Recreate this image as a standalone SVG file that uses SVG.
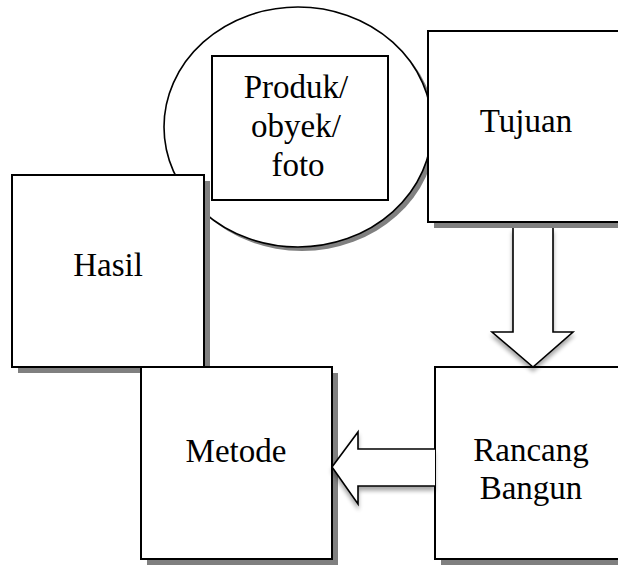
<svg xmlns="http://www.w3.org/2000/svg" width="618" height="565" viewBox="0 0 618 565">
<style>
.box{fill:#fff;stroke:#000;stroke-width:2}
.shadow{fill:#808080}
.txt{font-family:"Liberation Serif","Times New Roman",serif;font-size:33px;fill:#000;text-anchor:middle}
.arrow{fill:#fff;stroke:#000;stroke-width:1.6;stroke-linejoin:miter}
</style>
<defs>
<filter id="soft" x="-20%" y="-20%" width="140%" height="160%">
<feGaussianBlur in="SourceAlpha" stdDeviation="2"/>
<feOffset dx="0" dy="4" result="b"/>
<feComponentTransfer><feFuncA type="linear" slope="0.35"/></feComponentTransfer>
<feMerge><feMergeNode/><feMergeNode in="SourceGraphic"/></feMerge>
</filter>
</defs>
<rect width="618" height="565" fill="#fff"/>

<g id="produk">
<ellipse cx="302" cy="131" rx="134" ry="120" class="shadow"/>
<ellipse cx="298" cy="127" rx="134" ry="120" fill="#fff" stroke="#000" stroke-width="1.6"/>
<rect x="212" y="56" width="176" height="144" class="box"/>
<text class="txt" x="296" y="98">Produk/</text>
<text class="txt" x="296" y="137">obyek/</text>
<text class="txt" x="298" y="176">foto</text>
</g>

<g id="hasil">
<rect x="18" y="181" width="192" height="192" class="shadow"/>
<rect x="12" y="175" width="192" height="192" class="box"/>
<text class="txt" x="108" y="276">Hasil</text>
</g>

<g id="tujuan">
<rect x="434" y="37" width="192" height="191" class="shadow"/>
<rect x="428" y="31" width="192" height="191" class="box"/>
<text class="txt" x="526" y="132">Tujuan</text>
</g>

<g id="metode">
<rect x="147" y="373" width="191" height="192" class="shadow"/>
<rect x="141" y="367" width="191" height="192" class="box"/>
<text class="txt" x="236" y="462">Metode</text>
</g>

<g id="rancang">
<rect x="441" y="373" width="192" height="192" class="shadow"/>
<rect x="435" y="367" width="192" height="192" class="box"/>
<text class="txt" x="531" y="461">Rancang</text>
<text class="txt" x="531" y="499">Bangun</text>
</g>

<g id="connectors">
<path class="arrow" filter="url(#soft)" d="M513,228 L513,332 L492,332 L533,367 L573,332 L553,332 L553,228"/>
<path class="arrow" filter="url(#soft)" d="M435,449 L358,449 L358,432 L332,467 L358,504 L358,486 L435,486"/>
</g>
</svg>
